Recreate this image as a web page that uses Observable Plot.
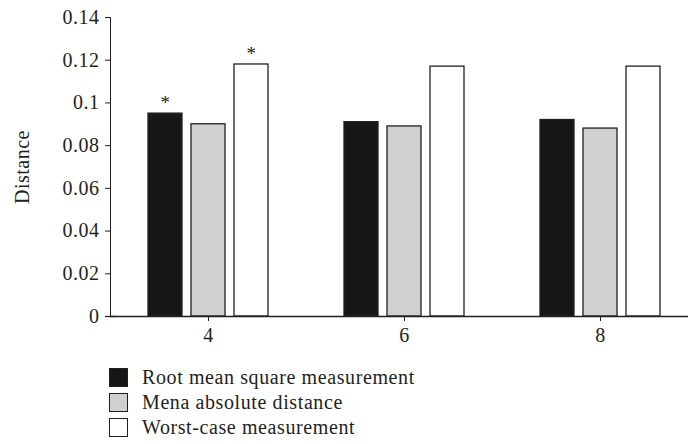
<!DOCTYPE html>
<html><head><meta charset="utf-8">
<script src="https://cdn.jsdelivr.net/npm/d3@7"></script>
<script src="https://cdn.jsdelivr.net/npm/@observablehq/plot@0.6"></script>
<style>
body{margin:0;background:#fff;font-family:"Liberation Serif",serif;}
#chart{position:relative;width:688px;height:444px;overflow:hidden;background:#fff}
#chart svg{overflow:hidden;letter-spacing:0.5px}
.legend{position:absolute;left:109px;top:365px;font-size:20px;letter-spacing:0.6px;color:#231f20}
.legend .row{display:flex;align-items:center;height:25px}
.legend .sw{width:19px;height:19px;box-sizing:border-box;border:1.3px solid #231f20;margin-right:14px}
</style></head><body><div id="chart"></div>
<script>
const groups = [4, 6, 8];
const seriesNames = ["Root mean square measurement", "Mena absolute distance", "Worst-case measurement"];
const rmsValues = [0.095, 0.091, 0.092];
const madValues = [0.090, 0.089, 0.088];
const worstValues = [0.118, 0.117, 0.117];
const seriesColors = ["#171717", "#cfd1d0", "#ffffff"];
const yTicks = [0, 0.02, 0.04, 0.06, 0.08, 0.1, 0.12, 0.14];
const starGroups = [4, 4];
const starSeries = ["Root mean square measurement", "Worst-case measurement"];

const valueSets = [rmsValues, madValues, worstValues];
const rows = [];
groups.forEach((g, i) => seriesNames.forEach((s, j) => rows.push({group: g, series: s, value: valueSets[j][i]})));
const stars = starGroups.map((g, k) => rows.find(r => r.group === g && r.series === starSeries[k]));
const firstBaseline = [{group: groups[0], v: 0}];

const plot = Plot.plot({
  width: 688,
  height: 352,
  marginLeft: 109,
  marginRight: 0,
  marginTop: 17,
  marginBottom: 36,
  style: {fontFamily: "Liberation Serif, serif", fontSize: "20px", color: "#231f20", background: "#fff"},
  fx: {domain: groups, range: [108.5, 699], padding: 0, label: null, axis: "bottom", tickSize: 5, tickPadding: 6},
  x: {domain: seriesNames, paddingInner: 0.2, paddingOuter: 0.86, axis: null},
  y: {domain: [0, 0.14], ticks: yTicks, tickFormat: d => String(+d.toFixed(2)), tickSize: 5, tickPadding: 6, line: true,
      label: "Distance", labelArrow: "none", labelAnchor: "center", labelOffset: 96},
  color: {domain: seriesNames, range: seriesColors},
  marks: [
    Plot.barY(rows, {fx: "group", x: "series", y: "value", fill: "series", stroke: "#231f20", strokeWidth: 1.3}),
    Plot.ruleY([0], {stroke: "#231f20", strokeWidth: 1.3}),
    Plot.ruleY(firstBaseline, {fx: "group", y: "v", stroke: "#231f20", strokeWidth: 1.3, insetLeft: -5, insetRight: 190}),
    Plot.text(stars, {fx: "group", x: "series", y: "value", text: () => "*", dy: -11, fontSize: 19})
  ]
});
const chart = document.getElementById("chart");
chart.appendChild(plot);
const legend = document.createElement("div");
legend.className = "legend";
seriesNames.forEach((s, j) => {
  const row = document.createElement("div");
  row.className = "row";
  const sw = document.createElement("span");
  sw.className = "sw";
  sw.style.background = seriesColors[j];
  const t = document.createElement("span");
  t.textContent = s;
  row.appendChild(sw);
  row.appendChild(t);
  legend.appendChild(row);
});
chart.appendChild(legend);
</script></body></html>
